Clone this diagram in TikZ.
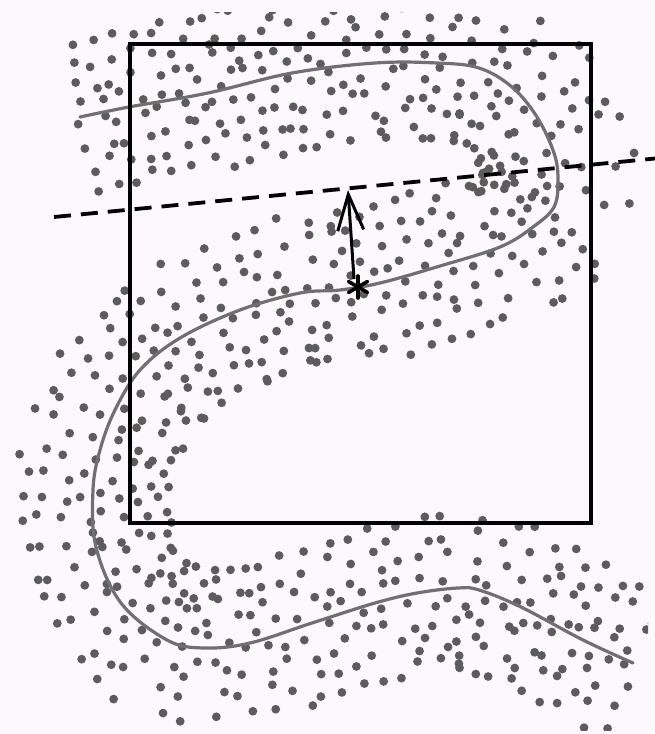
\documentclass[tikz,border=0pt]{standalone}
\usetikzlibrary{arrows.meta}
\definecolor{bg}{RGB}{253,248,252}
\definecolor{dotc}{RGB}{92,92,92}
\definecolor{curvec}{RGB}{112,112,112}
\tikzset{
  dotmark/.style={fill=dotc},
  curveline/.style={draw=curvec,line width=3.2pt,line cap=round},
  boxline/.style={draw=black,line width=3.4pt},
  dashline/.style={draw=black,line width=3.8pt,dash pattern=on 17pt off 10pt},
  arrowline/.style={draw=black,line width=3pt,-{Straight Barb[length=36pt,width=26pt,line width=3pt]}},
  starline/.style={draw=black,line width=3.6pt,line cap=round}
}
\begin{document}
\begin{tikzpicture}[x=1pt,y=-1pt]
\useasboundingbox (0,0) rectangle (654,734);
\fill[bg] (0,0) rectangle (654,734);
\begin{scope}
\clip (6,12) rectangle (648,730);
\pgfmathsetseed{11}
% scattered dots around the curve (jittered rows along the curve)
\foreach \xa/\ya/\xb/\yb in {72/118/129/107, 129/107/208/93, 208/93/292/73, 292/73/375/63, 375/63/437/63, 437/63/479/68, 479/68/512/87, 512/87/537/117, 537/117/554/153, 554/153/558/180, 558/180/554/207, 554/207/533/227, 533/227/500/247, 500/247/440/266, 440/266/380/283, 380/283/340/290, 340/290/300/293, 300/293/240/310, 240/310/180/338, 180/338/140/370, 140/370/115/410, 115/410/100/450, 100/450/93/490, 93/490/96/547, 96/547/121/603, 121/603/167/640, 167/640/204/648, 204/648/250/643, 250/643/312/623, 312/623/375/603, 375/603/417/593, 417/593/458/588, 458/588/479/590, 479/590/521/607, 521/607/583/640, 583/640/640/666}{
  \pgfmathsetmacro\len{veclen(\xb-\xa,\yb-\ya)}
  \pgfmathtruncatemacro\n{max(1,round(\len/19))}
  \pgfmathsetmacro\nx{-(\yb-\ya)/\len}
  \pgfmathsetmacro\ny{(\xb-\xa)/\len}
  \foreach \k in {1,...,\n}{
    \foreach \r in {0,...,7}{
      \pgfmathsetmacro\t{(\k-0.5+0.4*rand)/\n}
      \pgfmathsetmacro\o{-72+20.5*\r+8*rand}
      \pgfmathsetmacro\px{\xa+\t*(\xb-\xa)+\o*\nx}
      \pgfmathsetmacro\py{\ya+\t*(\yb-\ya)+\o*\ny}
      \fill[dotmark] (\px,\py) circle[radius=4.4pt];
    }
  }
}
\end{scope}
% curve
\draw[curveline] plot[smooth,tension=0.6] coordinates {(80,117) (129,107) (208,93) (292,73) (375,63) (437,63) (479,68) (512,87) (537,117) (554,153) (558,180) (554,207) (533,227) (500,247) (440,266) (380,283) (340,290) (300,293) (240,310) (180,338) (140,370) (115,410) (100,450) (93,490) (96,547) (121,603) (167,640) (204,648) (250,643) (312,623) (375,603) (417,593) (458,588) (479,590) (521,607) (583,640) (633,663)};
% box
\draw[boxline] (130,44) rectangle (591,523);
% dashed line
\coordinate (dl) at (54,217);
\coordinate (dr) at (660,158);
\draw[dashline] (dl) -- (dr);
% star and arrow
\coordinate (s) at (358,287);
\coordinate (t) at (348,190);
\coordinate (sa) at (354,279);
\draw[arrowline] (sa) -- (t);
\foreach \a in {90,150,210,270,330,30}
  \draw[starline] (s) -- ++(\a:11);
\end{tikzpicture}
\end{document}
